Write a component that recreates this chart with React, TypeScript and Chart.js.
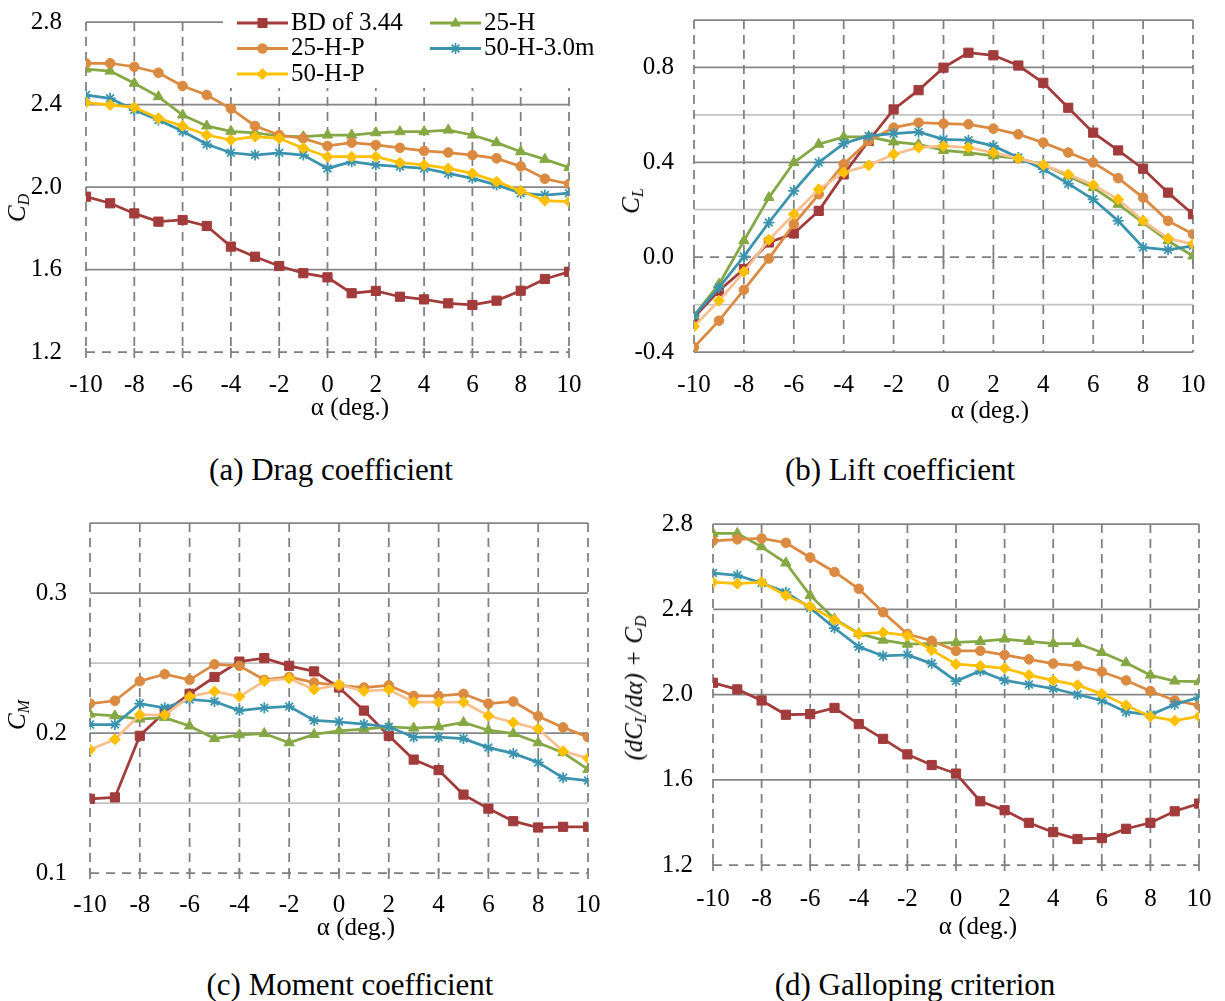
import React, { useEffect, useRef } from 'react';
import { Chart, registerables } from 'chart.js';

Chart.register(...registerables);

const FONT = '"Liberation Serif", Tinos, "Times New Roman", Times, "DejaVu Serif", "Noto Serif", serif';

// ---------- data ----------
const alpha = [-10, -9, -8, -7, -6, -5, -4, -3, -2, -1, 0, 1, 2, 3, 4, 5, 6, 7, 8, 9, 10];
const xTickLabels = ['-10', '-8', '-6', '-4', '-2', '0', '2', '4', '6', '8', '10'];
const seriesNames = ['BD of 3.44', '25-H', '25-H-P', '50-H-3.0m', '50-H-P'];

// (a) Drag coefficient
const cdBD = [1.953, 1.921, 1.872, 1.832, 1.840, 1.811, 1.711, 1.662, 1.617, 1.582, 1.562, 1.485, 1.496, 1.468, 1.455, 1.436, 1.428, 1.449, 1.497, 1.554, 1.589];
const cd25H = [2.572, 2.562, 2.503, 2.438, 2.349, 2.296, 2.270, 2.263, 2.247, 2.244, 2.252, 2.252, 2.263, 2.268, 2.268, 2.276, 2.252, 2.215, 2.171, 2.134, 2.095];
const cd25HP = [2.600, 2.600, 2.583, 2.554, 2.490, 2.446, 2.380, 2.296, 2.252, 2.236, 2.199, 2.215, 2.204, 2.190, 2.175, 2.167, 2.155, 2.139, 2.100, 2.040, 2.015];
const cd50H30 = [2.446, 2.430, 2.373, 2.325, 2.270, 2.207, 2.166, 2.155, 2.166, 2.155, 2.090, 2.123, 2.107, 2.099, 2.090, 2.066, 2.042, 2.010, 1.970, 1.961, 1.970];
const cd50HP = [2.409, 2.398, 2.386, 2.333, 2.296, 2.252, 2.228, 2.244, 2.236, 2.188, 2.147, 2.147, 2.147, 2.118, 2.107, 2.090, 2.066, 2.026, 1.982, 1.934, 1.929];
const cdTickLabels = ['1.2', '1.6', '2.0', '2.4', '2.8'];

// (b) Lift coefficient
const clBD = [-0.254, -0.142, -0.050, 0.062, 0.100, 0.195, 0.349, 0.490, 0.623, 0.704, 0.799, 0.862, 0.851, 0.808, 0.735, 0.630, 0.525, 0.450, 0.373, 0.272, 0.181];
const cl25H = [-0.247, -0.114, 0.069, 0.251, 0.399, 0.476, 0.507, 0.507, 0.486, 0.476, 0.450, 0.441, 0.427, 0.416, 0.389, 0.342, 0.293, 0.223, 0.146, 0.069, 0.005];
const cl25HP = [-0.380, -0.268, -0.138, -0.006, 0.139, 0.265, 0.392, 0.490, 0.546, 0.567, 0.563, 0.560, 0.542, 0.518, 0.483, 0.441, 0.399, 0.333, 0.251, 0.153, 0.097];
const cl50H30 = [-0.247, -0.128, 0.003, 0.146, 0.279, 0.399, 0.479, 0.511, 0.521, 0.528, 0.497, 0.493, 0.469, 0.420, 0.371, 0.310, 0.244, 0.153, 0.041, 0.031, 0.048];
const cl50HP = [-0.292, -0.184, -0.062, 0.073, 0.181, 0.286, 0.357, 0.387, 0.434, 0.462, 0.469, 0.462, 0.441, 0.416, 0.389, 0.349, 0.304, 0.244, 0.153, 0.079, 0.055];
const clTickLabels = ['-0.4', '0.0', '0.4', '0.8'];

// (c) Moment coefficient
const cmBD = [0.153, 0.154, 0.198, 0.215, 0.228, 0.240, 0.251, 0.2535, 0.248, 0.244, 0.2325, 0.216, 0.198, 0.181, 0.1735, 0.156, 0.146, 0.137, 0.1325, 0.133, 0.133];
const cm25H = [0.2135, 0.2123, 0.210, 0.211, 0.205, 0.196, 0.1987, 0.1996, 0.193, 0.199, 0.2016, 0.2028, 0.2044, 0.2035, 0.2044, 0.2075, 0.202, 0.1996, 0.193, 0.186, 0.174];
const cm25HP = [0.221, 0.223, 0.237, 0.242, 0.238, 0.249, 0.248, 0.238, 0.240, 0.236, 0.234, 0.2325, 0.234, 0.2265, 0.2265, 0.228, 0.221, 0.2225, 0.212, 0.204, 0.197];
const cm50H30 = [0.206, 0.206, 0.221, 0.218, 0.224, 0.2225, 0.216, 0.218, 0.219, 0.209, 0.208, 0.2063, 0.2044, 0.197, 0.197, 0.196, 0.1896, 0.1854, 0.179, 0.168, 0.166];
const cm50HP = [0.188, 0.1955, 0.213, 0.213, 0.226, 0.2297, 0.226, 0.237, 0.239, 0.231, 0.2345, 0.230, 0.231, 0.222, 0.222, 0.222, 0.2123, 0.2075, 0.203, 0.187, 0.182];
const cmTickLabels = ['0.1', '0.2', '0.3'];

// (d) Galloping criterion
const gcBD = [2.055, 2.024, 1.972, 1.905, 1.908, 1.937, 1.861, 1.792, 1.719, 1.669, 1.629, 1.499, 1.457, 1.398, 1.354, 1.322, 1.326, 1.370, 1.398, 1.452, 1.488];
const gc25H = [2.756, 2.756, 2.693, 2.617, 2.465, 2.354, 2.286, 2.255, 2.236, 2.239, 2.244, 2.249, 2.260, 2.249, 2.239, 2.239, 2.197, 2.149, 2.091, 2.063, 2.060];
const gc25HP = [2.721, 2.728, 2.732, 2.712, 2.643, 2.575, 2.496, 2.386, 2.284, 2.252, 2.205, 2.205, 2.186, 2.165, 2.145, 2.134, 2.107, 2.066, 2.016, 1.972, 1.949];
const gc50H30 = [2.570, 2.559, 2.523, 2.480, 2.406, 2.312, 2.224, 2.181, 2.186, 2.145, 2.063, 2.110, 2.066, 2.047, 2.028, 2.000, 1.972, 1.918, 1.905, 1.953, 1.987];
const gc50HP = [2.527, 2.520, 2.527, 2.465, 2.413, 2.350, 2.284, 2.291, 2.276, 2.208, 2.142, 2.134, 2.123, 2.091, 2.066, 2.044, 2.003, 1.949, 1.897, 1.877, 1.897];
const gcTickLabels = ['1.2', '1.6', '2.0', '2.4', '2.8'];

// ---------- styles ----------
const seriesColors = ['#A23B3B', '#86A844', '#DB8A41', '#3B93AE', '#FFC000'];
const peachLine = '#F8C08F';
const pointStyles = ['rect', 'triangle', 'circle', 'star', 'rectRot'];
const pointRadii = [6.5, 6, 4.8, 5.5, 5.5];

type PanelDef = {
  key: string;
  left: number; top: number; w: number; h: number;
  area: [number, number, number, number];
  yMin: number; yMax: number; yStep: number; yLabels: string[];
  yPad: number; xPad: number;
  axisVal: number; lightVals: number[];
  series: number[][];
  peach: boolean; legend: boolean;
};

const panels: PanelDef[] = [
  { key: 'a', left: 0, top: 0, w: 612, h: 440, area: [86, 22, 569, 352], yMin: 1.2, yMax: 2.8, yStep: 0.4, yLabels: cdTickLabels, yPad: 24, xPad: 18, axisVal: 1.2, lightVals: [], series: [cdBD, cd25H, cd25HP, cd50H30, cd50HP], peach: false, legend: true },
  { key: 'b', left: 612, top: 0, w: 613, h: 440, area: [82, 20, 581, 352], yMin: -0.4, yMax: 1.0, yStep: 0.2, yLabels: clTickLabels, yPad: 20, xPad: 18, axisVal: 0, lightVals: [0.6, 0.2, -0.2], series: [clBD, cl25H, cl25HP, cl50H30, cl50HP], peach: true, legend: false },
  { key: 'c', left: 0, top: 500, w: 612, h: 450, area: [90, 23, 588, 373], yMin: 0.1, yMax: 0.35, yStep: 0.05, yLabels: cmTickLabels, yPad: 23, xPad: 17, axisVal: 0.1, lightVals: [0.25, 0.15], series: [cmBD, cm25H, cm25HP, cm50H30, cm50HP], peach: true, legend: false },
  { key: 'd', left: 612, top: 500, w: 613, h: 450, area: [101, 24, 587, 365], yMin: 1.2, yMax: 2.8, yStep: 0.4, yLabels: gcTickLabels, yPad: 20, xPad: 19, axisVal: 1.2, lightVals: [], series: [gcBD, gc25H, gc25HP, gc50H30, gc50HP], peach: false, legend: false },
];

const near = (a: number, b: number) => Math.abs(a - b) < 1e-6;

function drawMarker(ctx: CanvasRenderingContext2D, style: string, x: number, y: number, color: string) {
  ctx.save();
  ctx.fillStyle = color;
  ctx.strokeStyle = color;
  ctx.lineWidth = 1;
  ctx.setLineDash([]);
  ctx.beginPath();
  if (style === 'rect') {
    ctx.rect(x - 5, y - 5, 10, 10);
    ctx.fill();
  } else if (style === 'triangle') {
    ctx.moveTo(x, y - 6);
    ctx.lineTo(x + 5.5, y + 3.5);
    ctx.lineTo(x - 5.5, y + 3.5);
    ctx.closePath();
    ctx.fill();
  } else if (style === 'circle') {
    ctx.arc(x, y, 5.2, 0, Math.PI * 2);
    ctx.fill();
  } else if (style === 'star') {
    ctx.lineWidth = 1.75;
    const r = 5.5;
    ctx.moveTo(x - r, y); ctx.lineTo(x + r, y);
    ctx.moveTo(x, y - r); ctx.lineTo(x, y + r);
    const d = r * Math.SQRT1_2;
    ctx.moveTo(x - d, y - d); ctx.lineTo(x + d, y + d);
    ctx.moveTo(x - d, y + d); ctx.lineTo(x + d, y - d);
    ctx.stroke();
  } else {
    ctx.moveTo(x, y - 6);
    ctx.lineTo(x + 6, y);
    ctx.lineTo(x, y + 6);
    ctx.lineTo(x - 6, y);
    ctx.closePath();
    ctx.fill();
  }
  ctx.restore();
}

const gridPlugin = {
  id: 'excelGrid',
  beforeDatasetsDraw(chart: any, _args: any, opts: any) {
    const { ctx, chartArea: a } = chart;
    const xs = chart.scales.x;
    const ys = chart.scales.y;
    ctx.save();
    ctx.setLineDash([]);
    ctx.lineWidth = 1.75;
    ys.ticks.forEach((t: any) => {
      const v = t.value;
      if (near(v, opts.axisVal)) return;
      const py = ys.getPixelForValue(v);
      const light = opts.lightVals.some((l: number) => near(l, v));
      ctx.strokeStyle = light ? '#C3C3C3' : '#868686';
      ctx.beginPath();
      ctx.moveTo(a.left, py);
      ctx.lineTo(a.right, py);
      ctx.stroke();
    });
    ctx.strokeStyle = '#7F7F7F';
    ctx.lineWidth = 1.75;
    ctx.setLineDash([9, 6]);
    xs.ticks.forEach((t: any) => {
      const px = xs.getPixelForValue(t.value);
      ctx.beginPath();
      ctx.moveTo(px, a.top);
      ctx.lineTo(px, a.bottom);
      ctx.stroke();
    });
    const ay = ys.getPixelForValue(opts.axisVal);
    ctx.setLineDash([9, 7]);
    ctx.beginPath();
    ctx.moveTo(a.left, ay);
    ctx.lineTo(a.right, ay);
    ctx.stroke();
    ctx.setLineDash([]);
    xs.ticks.forEach((t: any) => {
      const px = xs.getPixelForValue(t.value);
      ctx.beginPath();
      ctx.moveTo(px, ay - 4);
      ctx.lineTo(px, ay + 6);
      ctx.stroke();
    });
    ctx.restore();
  },
};

const legendPlugin = {
  id: 'excelLegend',
  afterDatasetsDraw(chart: any, _args: any, opts: any) {
    if (!opts || !opts.show) return;
    const { ctx } = chart;
    ctx.save();
    ctx.fillStyle = '#ffffff';
    ctx.fillRect(223, 0, chart.width - 223, 88);
    const cols = [237, 430];
    const rows = [23, 48.5, 74];
    ctx.font = `25px ${FONT}`;
    ctx.textBaseline = 'middle';
    ctx.textAlign = 'left';
    seriesNames.forEach((name, i) => {
      const cx = cols[i % 2];
      const cy = rows[Math.floor(i / 2)];
      const color = seriesColors[i];
      ctx.strokeStyle = color;
      ctx.lineWidth = 3;
      ctx.setLineDash([]);
      ctx.beginPath();
      ctx.moveTo(cx, cy);
      ctx.lineTo(cx + 51, cy);
      ctx.stroke();
      drawMarker(ctx, pointStyles[i], cx + 25.5, cy, color);
      ctx.fillStyle = '#000';
      ctx.fillText(name, cx + 54, cy);
    });
    ctx.restore();
  },
};

function buildConfig(p: PanelDef): any {
  const [l, t, r, b] = p.area;
  const xAxisH = 60;
  const datasets = p.series.map((vals, i) => ({
    label: seriesNames[i],
    data: alpha.map((a, j) => ({ x: a, y: vals[j] })),
    borderColor: p.peach && i === 4 ? peachLine : seriesColors[i],
    backgroundColor: seriesColors[i],
    borderWidth: 2.75,
    pointStyle: pointStyles[i],
    pointRadius: pointRadii[i],
    pointBackgroundColor: seriesColors[i],
    pointBorderColor: seriesColors[i],
    pointBorderWidth: i === 3 ? 1.75 : 1,
    tension: 0,
    order: 5 - i,
  }));
  const tickFont = { family: FONT, size: 25 };
  return {
    type: 'line',
    data: { datasets },
    plugins: p.legend ? [gridPlugin, legendPlugin] : [gridPlugin],
    options: {
      responsive: false,
      maintainAspectRatio: false,
      animation: false,
      devicePixelRatio: 1,
      events: [],
      layout: { padding: { left: 0, top: t, right: p.w - r, bottom: p.h - b - xAxisH } },
      plugins: {
        legend: { display: false },
        tooltip: { enabled: false },
        title: { display: false },
        excelGrid: { axisVal: p.axisVal, lightVals: p.lightVals },
        excelLegend: { show: p.legend },
      },
      scales: {
        x: {
          type: 'linear',
          min: -10,
          max: 10,
          grid: { display: false, drawTicks: false },
          border: { display: false },
          ticks: {
            stepSize: 2,
            autoSkip: false,
            maxRotation: 0,
            font: tickFont,
            color: '#000',
            padding: p.xPad,
            callback: (v: number) => xTickLabels[Math.round((v + 10) / 2)] ?? '',
          },
          afterFit: (s: any) => { s.height = xAxisH; s.paddingLeft = 0; s.paddingRight = 0; },
        },
        y: {
          type: 'linear',
          min: p.yMin,
          max: p.yMax,
          grid: { display: false, drawTicks: false },
          border: { display: false },
          ticks: {
            stepSize: p.yStep,
            autoSkip: false,
            font: tickFont,
            color: '#000',
            padding: p.yPad,
            callback: (v: number) => p.yLabels.find((s) => near(parseFloat(s), v)) ?? '',
          },
          afterFit: (s: any) => { s.width = l; s.paddingTop = 0; s.paddingBottom = 0; },
        },
      },
    },
  };
}

function Panel({ p }: { p: PanelDef }) {
  const ref = useRef<HTMLCanvasElement>(null);
  useEffect(() => {
    if (!ref.current) return;
    const chart = new Chart(ref.current, buildConfig(p));
    return () => chart.destroy();
  }, [p]);
  return (
    <canvas
      ref={ref}
      width={p.w}
      height={p.h}
      style={{ position: 'absolute', left: p.left, top: p.top, width: p.w, height: p.h, display: 'block' }}
    />
  );
}

const subStyle: React.CSSProperties = { fontSize: '0.64em', position: 'relative', top: '0.28em' };

function YTitle({ cx, cy, children }: { cx: number; cy: number; children: React.ReactNode }) {
  return (
    <div
      style={{
        position: 'absolute', left: cx, top: cy, transform: 'translate(-50%, -50%) rotate(-90deg)',
        whiteSpace: 'nowrap', fontSize: 25, lineHeight: '25px', fontStyle: 'italic', fontFamily: FONT, color: '#000',
      }}
    >
      {children}
    </div>
  );
}

function CenterText({ cx, cy, size, text }: { cx: number; cy: number; size: number; text: string }) {
  return (
    <div
      style={{
        position: 'absolute', left: cx, top: cy, transform: 'translate(-50%, -50%)', whiteSpace: 'nowrap',
        fontSize: size, lineHeight: `${size}px`, fontFamily: FONT, color: '#000',
      }}
    >
      {text}
    </div>
  );
}

export default function App() {
  return (
    <div style={{ position: 'absolute', left: 0, top: 0, width: 1225, height: 1001, background: '#fff', overflow: 'hidden', fontFamily: FONT }}>
      {panels.map((p) => <Panel key={p.key} p={p} />)}

      <YTitle cx={18} cy={208}>C<span style={subStyle}>D</span></YTitle>
      <YTitle cx={632} cy={201}>C<span style={subStyle}>L</span></YTitle>
      <YTitle cx={18} cy={715}>C<span style={subStyle}>M</span></YTitle>
      <YTitle cx={635} cy={688}>(dC<span style={subStyle}>L</span>/dα) + C<span style={subStyle}>D</span></YTitle>

      <CenterText cx={350} cy={406} size={25} text="α (deg.)" />
      <CenterText cx={990} cy={409} size={25} text="α (deg.)" />
      <CenterText cx={356} cy={926} size={25} text="α (deg.)" />
      <CenterText cx={978} cy={925} size={25} text="α (deg.)" />

      <CenterText cx={331} cy={469} size={31} text="(a) Drag coefficient" />
      <CenterText cx={900} cy={469} size={31} text="(b) Lift coefficient" />
      <CenterText cx={350} cy={984} size={31} text="(c) Moment coefficient" />
      <CenterText cx={915} cy={984} size={31} text="(d) Galloping criterion" />
    </div>
  );
}
